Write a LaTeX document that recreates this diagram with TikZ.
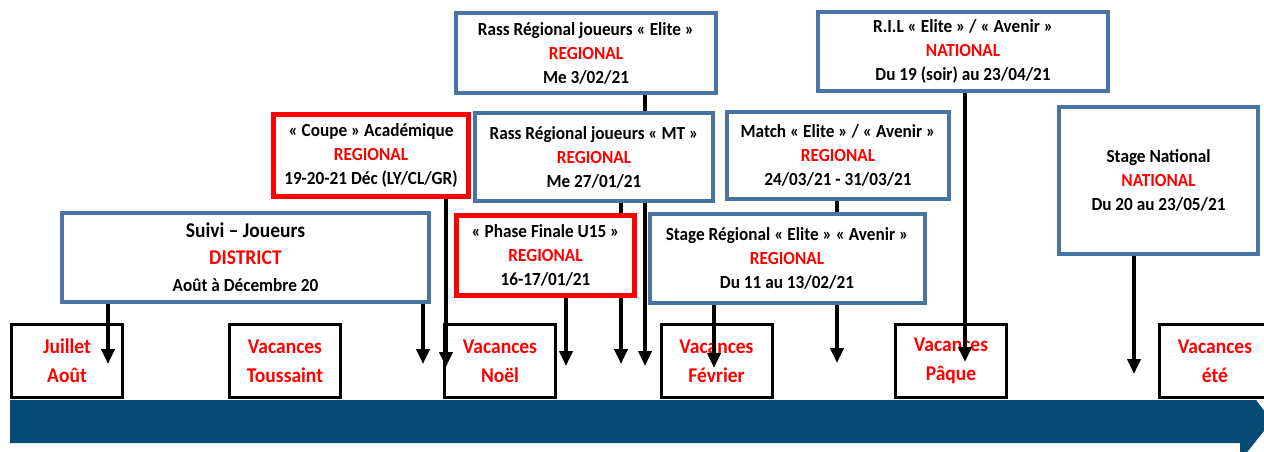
\documentclass[tikz,border=0pt]{standalone}
\usepackage{fontspec}
\setmainfont{Carlito}[FakeStretch=0.93]
\usetikzlibrary{arrows.meta}
\definecolor{boxblue}{RGB}{72,116,163}
\definecolor{barblue}{RGB}{6,74,118}
\definecolor{redtxt}{RGB}{255,0,0}
\pgfdeclarelayer{back}
\pgfdeclarelayer{mid}
\pgfsetlayers{back,mid,main}
\begin{document}
\begin{tikzpicture}[x=1pt,y=-1pt,
  ev/.style={draw=boxblue,line width=4pt,fill=white,align=center,inner sep=0pt,
    font=\fontsize{18.5}{24}\selectfont\bfseries},
  evred/.style={ev,draw=red,line width=5pt},
  vac/.style={draw=black,line width=3pt,fill=white,align=center,inner sep=0pt,
    minimum height=73pt,minimum width=111pt,text=redtxt,
    font=\fontsize{21}{29}\selectfont\bfseries},
  arr/.style={line width=4pt,-{Triangle[length=15pt,width=13pt]}},
  lvl/.style={text=redtxt}]
\useasboundingbox (0,0) rectangle (1264,452);
\clip (0,0) rectangle (1264,452);

% event boxes (main layer)
\node[ev,minimum width=260pt,minimum height=80pt] (elite) at (586,53)
  {Rass Régional joueurs « Elite »\\\textcolor{redtxt}{REGIONAL}\\Me 3/02/21};
\node[ev,minimum width=238pt,minimum height=88pt] (mt) at (594,157)
  {Rass Régional joueurs « MT »\\\textcolor{redtxt}{REGIONAL}\\Me 27/01/21};
\node[evred,minimum width=195pt,minimum height=82pt] (coupe) at (371,155.5)
  {« Coupe » Académique\\\textcolor{redtxt}{REGIONAL}\\19-20-21 Déc (LY/CL/GR)};
\node[evred,minimum width=178pt,minimum height=80pt] (phase) at (545.5,255.5)
  {« Phase Finale U15 »\\\textcolor{redtxt}{REGIONAL}\\16-17/01/21};
\node[ev,minimum width=367pt,minimum height=89pt,font=\fontsize{21}{27}\selectfont\bfseries] (suivi) at (245.5,257.5)
  {Suivi – Joueurs\\\textcolor{redtxt}{DISTRICT}\\\fontsize{18.5}{27}\selectfont Août à Décembre 20};
\node[ev,minimum width=290pt,minimum height=79pt] (ril) at (963,51.5)
  {R.I.L « Elite » / « Avenir »\\\textcolor{redtxt}{NATIONAL}\\Du 19 (soir) au 23/04/21};
\node[ev,minimum width=222pt,minimum height=87pt] (match) at (838,155.5)
  {Match « Elite » / « Avenir »\\\textcolor{redtxt}{REGIONAL}\\24/03/21 - 31/03/21};
\node[ev,minimum width=275pt,minimum height=89pt] (sreg) at (787,258)
  {Stage Régional « Elite » « Avenir »\\\textcolor{redtxt}{REGIONAL}\\Du 11 au 13/02/21};
\node[ev,minimum width=199pt,minimum height=147pt] (snat) at (1158.5,180)
  {Stage National\\\textcolor{redtxt}{NATIONAL}\\Du 20 au 23/05/21};

% holidays and timeline (back layer)
\begin{pgfonlayer}{back}
\fill[barblue] (10,400) -- (1256,400) -- (1272,421) -- (1244,456) -- (1240,456)
  -- (1240,443) -- (10,443) -- cycle;
\node[vac] (juil) at (67,361) {Juillet\\Août};
\node[vac] (tous) at (285,361) {Vacances\\Toussaint};
\node[vac] (noel) at (500,361) {Vacances\\Noël};
\node[vac] (fev) at (716.5,361) {Vacances\\Février};
\node[vac] (paq) at (951,361) {Vacances\\Pâque};
\node[vac] (ete) at (1215,361) {Vacances\\été};
\end{pgfonlayer}

% connectors (mid layer)
\coordinate (t1) at (108,364);
\coordinate (t2) at (423,364);
\coordinate (t3) at (446,367);
\coordinate (t4) at (566,366);
\coordinate (t5) at (621,364);
\coordinate (t6) at (645,366);
\coordinate (t7) at (714,368);
\coordinate (t8) at (837,363);
\coordinate (t9) at (965,362);
\coordinate (t10) at (1134,374);
\begin{pgfonlayer}{mid}
\draw[arr] (suivi.south -| t1) -- (t1);
\draw[arr] (suivi.south -| t2) -- (t2);
\draw[arr] (coupe.south -| t3) -- (t3);
\draw[arr] (phase.south -| t4) -- (t4);
\draw[arr] (mt.south -| t5) -- (t5);
\draw[arr] (elite.south -| t6) -- (t6);
\draw[arr] (sreg.south -| t7) -- (t7);
\draw[arr] (match.south -| t8) -- (t8);
\draw[arr] (ril.south -| t9) -- (t9);
\draw[arr] (snat.south -| t10) -- (t10);
\end{pgfonlayer}
\end{tikzpicture}
\end{document}
